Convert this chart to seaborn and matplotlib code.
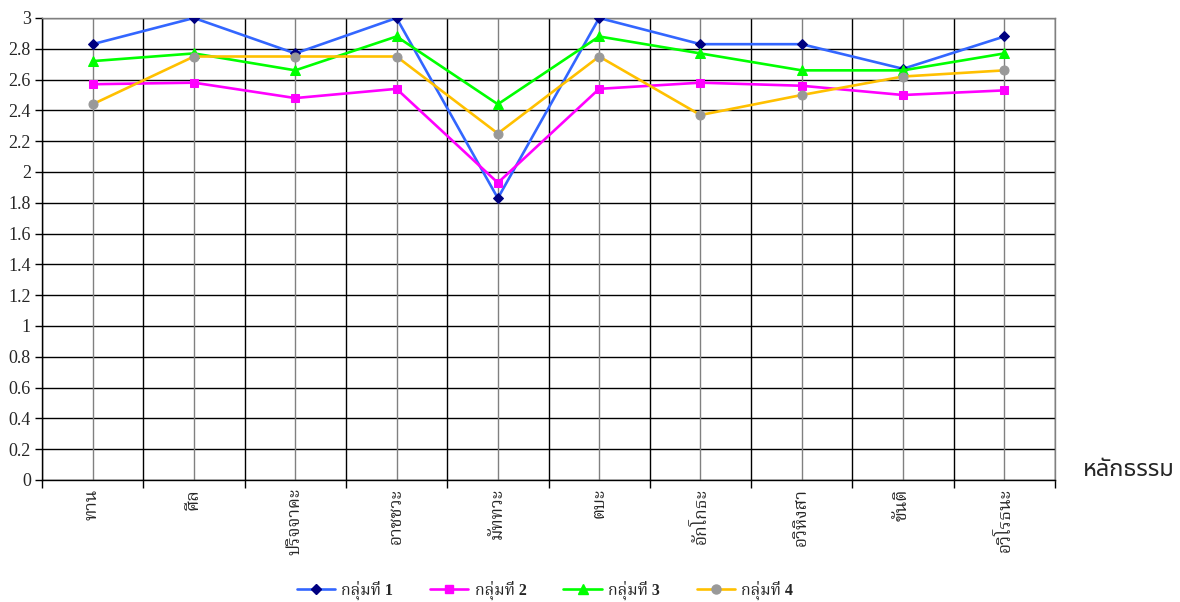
import matplotlib
matplotlib.use("Agg")
import matplotlib.pyplot as plt
import seaborn as sns
import pandas as pd
from matplotlib.lines import Line2D

categories = ["ทาน", "ศีล", "ปริจจาคะ", "อาชชวะ", "มัททวะ", "ตบะ", "อักโกธะ", "อวิหิงสา", "ขันติ", "อวิโรธนะ"]
series_names = ["กลุ่มที่ 1", "กลุ่มที่ 2", "กลุ่มที่ 3", "กลุ่มที่ 4"]
group1 = [2.83, 3.00, 2.77, 3.00, 1.83, 3.00, 2.83, 2.83, 2.67, 2.88]
group2 = [2.57, 2.58, 2.48, 2.54, 1.93, 2.54, 2.58, 2.56, 2.50, 2.53]
group3 = [2.72, 2.77, 2.66, 2.88, 2.44, 2.88, 2.77, 2.66, 2.66, 2.77]
group4 = [2.44, 2.75, 2.75, 2.75, 2.25, 2.75, 2.37, 2.50, 2.62, 2.66]
yticks = [0, 0.2, 0.4, 0.6, 0.8, 1, 1.2, 1.4, 1.6, 1.8, 2, 2.2, 2.4, 2.6, 2.8, 3]
ytick_labels = ["0", "0.2", "0.4", "0.6", "0.8", "1", "1.2", "1.4", "1.6", "1.8", "2", "2.2", "2.4", "2.6", "2.8", "3"]
axis_label = "หลักธรรม"

sns.set_style("white")
THAI = ["Liberation Serif", "Noto Serif Thai", "Noto Sans Thai", "Loma", "Garuda", "Norasi", "DejaVu Sans"]
plt.rcParams["font.family"] = THAI

fig = plt.figure(figsize=(11.8, 6.02), dpi=100)
ax = fig.add_axes([42 / 1180, 1 - 480 / 602, (1055 - 42) / 1180, (480 - 18) / 602])

line_colors = ["#3366FF", "#FF00FF", "#00FF00", "#FFC000"]
marker_face = ["#000080", "#FF00FF", "#00FF00", "#999999"]
markers = ["D", "s", "^", "o"]
msizes = [5.5, 6, 7.5, 6.5]

df = pd.DataFrame({
    "cat": categories * 4,
    "val": group1 + group2 + group3 + group4,
    "grp": [s for s in series_names for _ in categories],
})

handles = []
for i, name in enumerate(series_names):
    sub = df[df["grp"] == name]
    sns.lineplot(data=sub, x="cat", y="val", ax=ax, sort=False, color=line_colors[i],
                 linewidth=1.9, marker=markers[i], markersize=msizes[i],
                 markerfacecolor=marker_face[i], markeredgecolor=marker_face[i], zorder=3 + i)
    handles.append(Line2D([0], [0], color=line_colors[i], lw=1.9, marker=markers[i],
                          markersize=msizes[i], markerfacecolor=marker_face[i],
                          markeredgecolor=marker_face[i]))

n = len(categories)
ax.set_xlim(-0.5, n - 0.5)
ax.set_ylim(0, 3)

# gridlines
for yv in yticks:
    ax.axhline(yv, color="black", lw=1, zorder=1)
for k in range(n):
    ax.axvline(k, color="#808080", lw=1, zorder=1)
for k in range(n + 1):
    ax.axvline(k - 0.5, color="black", lw=1, zorder=1)

ax.set_yticks(yticks)
ax.set_yticklabels(ytick_labels, fontsize=13, family=THAI)
ax.set_xticks([k - 0.5 for k in range(n + 1)])
ax.set_xticklabels([])
ax.set_xticks(range(n), minor=True)
ax.set_xticklabels(categories, minor=True, rotation=90, fontsize=12.5, family=THAI,
                   va="top", ha="center")
ax.tick_params(axis="x", which="major", direction="out", length=6, width=1, color="black", bottom=True)
ax.tick_params(axis="x", which="minor", length=0, pad=6)
ax.tick_params(axis="y", direction="out", length=5, width=1, color="black", left=True, pad=3)

for side in ["left", "bottom"]:
    ax.spines[side].set_color("black")
    ax.spines[side].set_linewidth(1)
for side in ["top", "right"]:
    ax.spines[side].set_visible(True)
    ax.spines[side].set_color("#808080")
    ax.spines[side].set_linewidth(1)

ax.set_xlabel("")
ax.set_ylabel("")
fig.text(1129 / 1180, 1 - 470 / 602, axis_label, fontsize=17, ha="center", va="center",
         family=["Noto Sans Thai", "Loma", "Garuda", "DejaVu Sans"])

fig.legend(handles, series_names, loc="center", bbox_to_anchor=(545 / 1180, 1 - 590 / 602),
           ncol=4, frameon=False, prop={"family": THAI, "weight": "bold", "size": 11.5},
           handlelength=2.4, columnspacing=2.3, handletextpad=0.4)

fig.savefig("out.png", dpi=100)
